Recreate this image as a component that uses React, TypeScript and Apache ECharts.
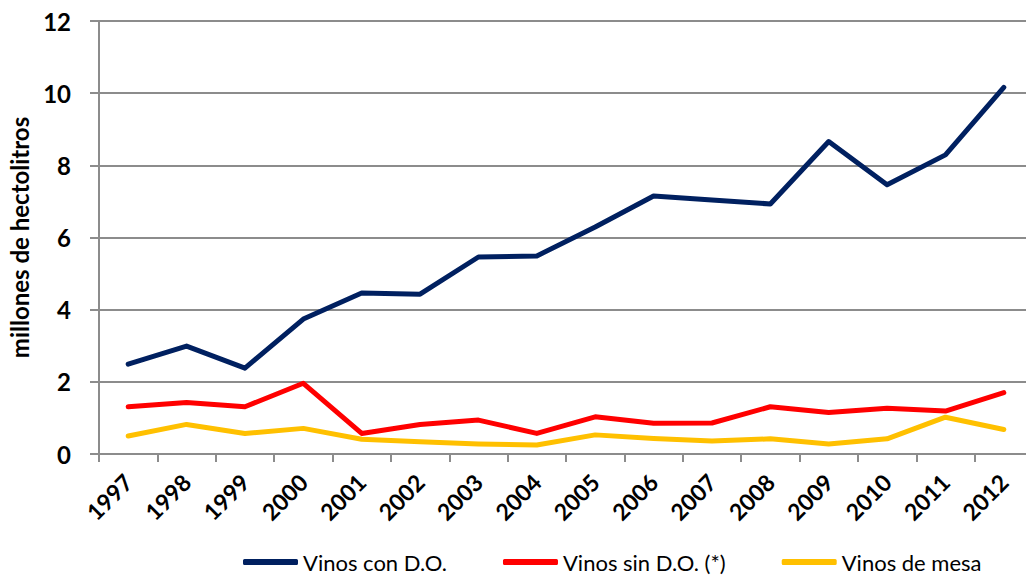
import React, { useEffect, useRef } from "react";
import * as echarts from "echarts";

const categories = ["1997","1998","1999","2000","2001","2002","2003","2004","2005","2006","2007","2008","2009","2010","2011","2012"];
const vinosConDO = [2.49, 2.99, 2.38, 3.74, 4.46, 4.43, 5.46, 5.49, 6.29, 7.15, 7.04, 6.93, 8.66, 7.46, 8.29, 10.16];
const vinosSinDO = [1.31, 1.43, 1.31, 1.96, 0.57, 0.82, 0.94, 0.57, 1.03, 0.85, 0.86, 1.31, 1.15, 1.27, 1.19, 1.70];
const vinosMesa = [0.50, 0.82, 0.57, 0.71, 0.41, 0.34, 0.28, 0.25, 0.53, 0.43, 0.36, 0.42, 0.28, 0.42, 1.02, 0.68];
const seriesNames = ["Vinos con D.O.", "Vinos sin D.O. (*)", "Vinos de mesa"];
const colors = ["#002060", "#FF0000", "#FFC000"];

export default function App() {
  const ref = useRef<HTMLDivElement>(null);
  useEffect(() => {
    if (!ref.current) return;
    const chart = echarts.init(ref.current, null, { renderer: "svg" });
    const font = "Lato, 'Open Sans', sans-serif";
    const data = [vinosConDO, vinosSinDO, vinosMesa];
    chart.setOption({
      animation: false,
      textStyle: { fontFamily: font },
      grid: { left: 99, top: 21, bottom: 123, right: -7, containLabel: false, outerBoundsMode: "none" },
      legend: {
        top: 546,
        left: 238,
        icon: "roundRect",
        itemWidth: 55,
        itemHeight: 6,
        itemGap: 56,
        textStyle: { fontFamily: font, fontSize: 22, color: "#000" },
        data: seriesNames,
      },
      xAxis: {
        type: "category",
        data: categories,
        boundaryGap: true,
        axisLine: { lineStyle: { color: "#8c8c8c", width: 2 } },
        axisTick: { show: true, length: 8, alignWithLabel: false, lineStyle: { color: "#8c8c8c", width: 2 } },
        axisLabel: { rotate: 45, margin: 24, fontSize: 23, fontWeight: "bold", color: "#000", fontFamily: font, interval: 0 },
        splitLine: { show: false },
      },
      yAxis: {
        type: "value",
        min: 0,
        max: 12,
        interval: 2,
        name: "millones de hectolitros",
        nameLocation: "middle",
        nameGap: 68,
        nameRotate: 90,
        nameTextStyle: { fontSize: 24, fontWeight: "bold", color: "#000", fontFamily: font },
        axisLine: { show: true, lineStyle: { color: "#8c8c8c", width: 2 } },
        axisTick: { show: true, length: 9, lineStyle: { color: "#8c8c8c", width: 2 } },
        axisLabel: { margin: 28, fontSize: 24, fontWeight: "bold", color: "#000", fontFamily: font },
        splitLine: { show: true, lineStyle: { color: "#8c8c8c", width: 2 } },
      },
      series: seriesNames.map((name, i) => ({
        name,
        type: "line",
        data: data[i],
        symbol: "none",
        lineStyle: { color: colors[i], width: 5, cap: "round", join: "round" },
        itemStyle: { color: colors[i] },
        z: 10 - i,
      })),
    });
    return () => chart.dispose();
  }, []);
  return <div ref={ref} style={{ width: 1026, height: 577, position: "absolute", left: 0, top: 0, background: "#fff" }} />;
}
